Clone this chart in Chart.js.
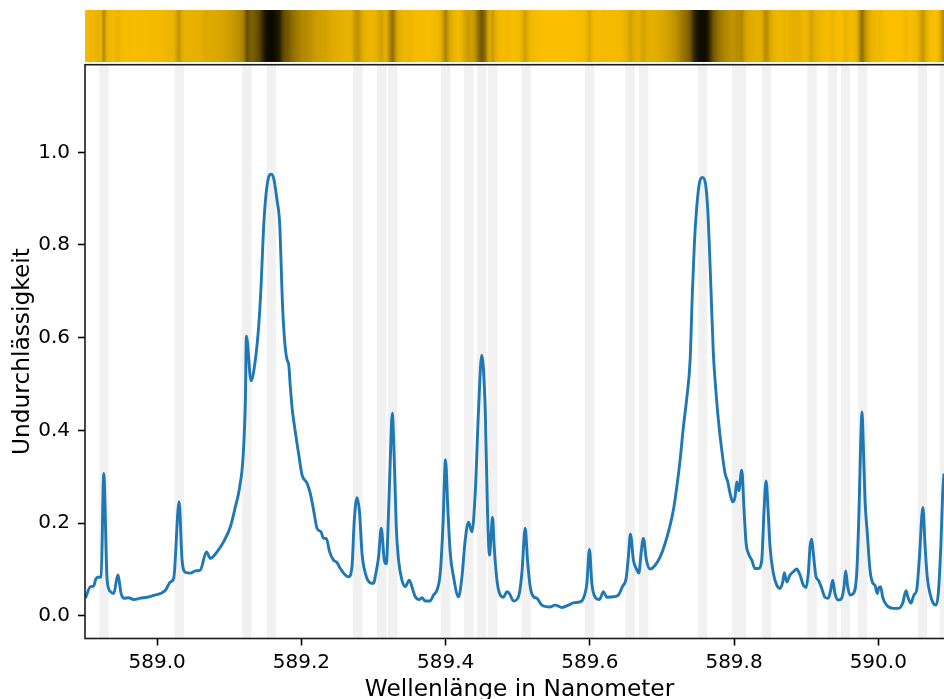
<!DOCTYPE html>
<html>
<head>
<meta charset="utf-8">
<title>Natrium-D-Linien</title>
<script src="https://cdn.jsdelivr.net/npm/chart.js@4.4.1/dist/chart.umd.min.js"></script>
<style>
  html, body { margin: 0; padding: 0; background: #fff; overflow: hidden; }
  #rahmen { width: 960px; height: 699px; }
</style>
</head>
<body>
<div id="rahmen"><canvas id="spektrum" width="960" height="699"></canvas></div>
<script>
// Wellenlänge in nm
const wellenlaenge = [
  588.9006, 588.9076, 588.9121, 588.9145, 588.9177, 588.9224, 588.9260, 588.9307, 588.9353, 588.9399,
  588.9454, 588.9501, 588.9537, 588.9606, 588.9676, 588.9769, 588.9861, 588.9953, 589.0046, 589.0115,
  589.0184, 589.0230, 589.0305, 589.0346, 589.0392, 589.0461, 589.0531, 589.0600, 589.0683, 589.0739,
  589.0831, 589.0923, 589.1016, 589.1085, 589.1145, 589.1192, 589.1224, 589.1238, 589.1303, 589.1362,
  589.1408, 589.1441, 589.1477, 589.1511, 589.1547, 589.1580, 589.1616, 589.1663, 589.1699, 589.1718,
  589.1736, 589.1764, 589.1802, 589.1824, 589.1847, 589.1875, 589.1893, 589.1962, 589.2009, 589.2079,
  589.2124, 589.2170, 589.2217, 589.2273, 589.2309, 589.2346, 589.2392, 589.2447, 589.2494, 589.2540,
  589.2609, 589.2655, 589.2702, 589.2734, 589.2772, 589.2808, 589.2841, 589.2887, 589.2956, 589.3002,
  589.3025, 589.3071, 589.3108, 589.3150, 589.3178, 589.3210, 589.3233, 589.3261, 589.3289, 589.3316,
  589.3348, 589.3395, 589.3441, 589.3496, 589.3548, 589.3580, 589.3639, 589.3672, 589.3718, 589.3787,
  589.3833, 589.3880, 589.3926, 589.3963, 589.3999, 589.4032, 589.4065, 589.4110, 589.4180, 589.4227,
  589.4272, 589.4318, 589.4365, 589.4411, 589.4457, 589.4501, 589.4550, 589.4581, 589.4609, 589.4633,
  589.4651, 589.4674, 589.4712, 589.4757, 589.4803, 589.4850, 589.4886, 589.4942, 589.5011, 589.5058,
  589.5104, 589.5136, 589.5173, 589.5219, 589.5266, 589.5335, 589.5450, 589.5520, 589.5613, 589.5704,
  589.5773, 589.5866, 589.5912, 589.5959, 589.5995, 589.6028, 589.6074, 589.6134, 589.6189, 589.6236,
  589.6328, 589.6397, 589.6452, 589.6504, 589.6535, 589.6563, 589.6605, 589.6652, 589.6680, 589.6711,
  589.6743, 589.6785, 589.6836, 589.6906, 589.6975, 589.7044, 589.7113, 589.7159, 589.7206, 589.7252,
  589.7298, 589.7345, 589.7391, 589.7422, 589.7450, 589.7483, 589.7519, 589.7561, 589.7603, 589.7636,
  589.7658, 589.7682, 589.7713, 589.7751, 589.7783, 589.7830, 589.7876, 589.7913, 589.7945, 589.7982,
  589.8014, 589.8038, 589.8065, 589.8107, 589.8139, 589.8167, 589.8198, 589.8246, 589.8291, 589.8337,
  589.8384, 589.8416, 589.8444, 589.8472, 589.8499, 589.8545, 589.8592, 589.8638, 589.8675, 589.8697,
  589.8731, 589.8776, 589.8822, 589.8869, 589.8915, 589.8961, 589.8998, 589.9030, 589.9054, 589.9077,
  589.9099, 589.9137, 589.9169, 589.9216, 589.9261, 589.9307, 589.9340, 589.9368, 589.9400, 589.9446,
  589.9493, 589.9525, 589.9548, 589.9576, 589.9608, 589.9654, 589.9701, 589.9733, 589.9756, 589.9774,
  589.9792, 589.9816, 589.9848, 589.9885, 589.9922, 589.9954, 589.9986, 590.0009, 590.0033, 590.0061,
  590.0116, 590.0208, 590.0277, 590.0338, 590.0384, 590.0416, 590.0453, 590.0495, 590.0532, 590.0568,
  590.0619, 590.0647, 590.0679, 590.0717, 590.0762, 590.0800, 590.0832, 590.0869, 590.0893, 590.0911
];

const undurchlaessigkeit = [
  0.038, 0.063, 0.064, 0.077, 0.083, 0.084, 0.307, 0.077, 0.052, 0.048,
  0.088, 0.048, 0.038, 0.039, 0.035, 0.038, 0.040, 0.044, 0.048, 0.055,
  0.073, 0.081, 0.246, 0.120, 0.094, 0.092, 0.097, 0.099, 0.138, 0.124,
  0.138, 0.160, 0.192, 0.235, 0.278, 0.343, 0.465, 0.603, 0.507, 0.552,
  0.624, 0.710, 0.839, 0.911, 0.947, 0.953, 0.944, 0.897, 0.847, 0.767,
  0.681, 0.602, 0.552, 0.543, 0.494, 0.444, 0.422, 0.350, 0.304, 0.286,
  0.264, 0.228, 0.189, 0.181, 0.167, 0.167, 0.138, 0.120, 0.115, 0.102,
  0.088, 0.084, 0.106, 0.206, 0.255, 0.221, 0.135, 0.092, 0.071, 0.070,
  0.085, 0.127, 0.189, 0.120, 0.112, 0.228, 0.336, 0.437, 0.336, 0.192,
  0.120, 0.077, 0.063, 0.077, 0.055, 0.041, 0.035, 0.039, 0.032, 0.032,
  0.045, 0.055, 0.092, 0.192, 0.337, 0.228, 0.135, 0.084, 0.041, 0.084,
  0.163, 0.202, 0.181, 0.264, 0.444, 0.562, 0.444, 0.228, 0.131, 0.178,
  0.212, 0.149, 0.077, 0.045, 0.040, 0.052, 0.048, 0.032, 0.041, 0.092,
  0.189, 0.120, 0.063, 0.041, 0.038, 0.023, 0.019, 0.023, 0.018, 0.023,
  0.028, 0.030, 0.038, 0.070, 0.143, 0.070, 0.040, 0.035, 0.052, 0.040,
  0.041, 0.045, 0.063, 0.081, 0.127, 0.176, 0.120, 0.099, 0.092, 0.135,
  0.167, 0.120, 0.101, 0.109, 0.127, 0.156, 0.195, 0.228, 0.278, 0.336,
  0.408, 0.470, 0.552, 0.696, 0.803, 0.882, 0.933, 0.946, 0.933, 0.875,
  0.796, 0.696, 0.566, 0.480, 0.422, 0.357, 0.307, 0.289, 0.264, 0.246,
  0.257, 0.289, 0.270, 0.314, 0.228, 0.156, 0.135, 0.120, 0.102, 0.102,
  0.120, 0.228, 0.291, 0.228, 0.149, 0.092, 0.066, 0.059, 0.073, 0.093,
  0.073, 0.088, 0.095, 0.101, 0.088, 0.066, 0.061, 0.092, 0.149, 0.165,
  0.135, 0.084, 0.077, 0.059, 0.040, 0.038, 0.055, 0.077, 0.048, 0.034,
  0.038, 0.063, 0.097, 0.063, 0.045, 0.048, 0.092, 0.228, 0.372, 0.440,
  0.372, 0.250, 0.178, 0.099, 0.071, 0.066, 0.048, 0.061, 0.063, 0.040,
  0.023, 0.016, 0.016, 0.027, 0.054, 0.038, 0.027, 0.045, 0.055, 0.120,
  0.234, 0.156, 0.084, 0.048, 0.027, 0.023, 0.048, 0.156, 0.264, 0.307
];

// Lage der bekannten Linien (graue Streifen)
const linienZentren = [
  588.9263, 589.0309, 589.1244, 589.1584, 589.2783, 589.3115, 589.3268, 589.4002, 589.4321, 589.4501,
  589.4654, 589.5118, 589.5998, 589.6559, 589.6746, 589.7564, 589.8035, 589.8104, 589.8451, 589.9081,
  589.9365, 589.9545, 589.9781, 590.0612, 590.0917
];

const xTicks = [589.0, 589.2, 589.4, 589.6, 589.8, 590.0];
const yTicks = [0.0, 0.2, 0.4, 0.6, 0.8, 1.0];

const SCHRIFT = 'DejaVu Sans';
const STREIFEN_HALB = 0.0065;

const linienStreifen = {
  id: 'linienStreifen',
  beforeDatasetsDraw(chart) {
    const { ctx, chartArea: a, scales: { x } } = chart;
    ctx.save();
    ctx.beginPath();
    ctx.rect(a.left, a.top, a.right - a.left, a.bottom - a.top);
    ctx.clip();
    ctx.fillStyle = '#f1f1f1';
    linienZentren.forEach(c => {
      const x0 = x.getPixelForValue(c - STREIFEN_HALB);
      const x1 = x.getPixelForValue(c + STREIFEN_HALB);
      ctx.fillRect(x0, a.top, x1 - x0, a.bottom - a.top);
    });
    ctx.restore();
  }
};

// Rahmen und das Farbband über dem Diagramm
const rahmenUndBand = {
  id: 'rahmenUndBand',
  afterDraw(chart) {
    const { ctx, chartArea: a, scales: { x } } = chart;
    const breite = a.right - a.left;

    ctx.save();
    ctx.strokeStyle = '#1a1a1a';
    ctx.lineWidth = 1.6;
    ctx.strokeRect(a.left, a.top, breite, a.bottom - a.top);

    const g = ctx.createLinearGradient(a.left, 0, a.right, 0);
    wellenlaenge.forEach((w, i) => {
      const t = (x.getPixelForValue(w) - a.left) / breite;
      if (t < 0 || t > 1) return;
      const k = 1 - undurchlaessigkeit[i];
      g.addColorStop(t, `rgb(${Math.round(255 * k)},${Math.round(195 * k)},0)`);
    });
    ctx.fillStyle = g;
    ctx.fillRect(a.left, 10, breite, 52);
    ctx.restore();
  }
};

const ctx = document.getElementById('spektrum').getContext('2d');

new Chart(ctx, {
  type: 'line',
  data: {
    datasets: [{
      data: wellenlaenge.map((w, i) => ({ x: w, y: undurchlaessigkeit[i] })),
      borderColor: '#1f77b4',
      borderWidth: 2.9,
      pointRadius: 0,
      cubicInterpolationMode: 'monotone',
      fill: false
    }]
  },
  options: {
    responsive: false,
    animation: false,
    layout: { padding: { left: 0, right: 6, top: 64.7, bottom: 0 } },
    plugins: {
      legend: { display: false },
      tooltip: { enabled: false }
    },
    scales: {
      x: {
        type: 'linear',
        min: 588.9,
        max: 590.105,
        afterBuildTicks: s => { s.ticks = xTicks.map(v => ({ value: v })); },
        afterFit: s => { s.height = 699 - 638.5; },
        border: { display: false },
        grid: { drawOnChartArea: false, tickLength: 7, tickWidth: 1.6, tickColor: '#000' },
        ticks: {
          autoSkip: false,
          maxRotation: 0,
          padding: 5,
          color: '#000',
          font: { family: SCHRIFT, size: 20 },
          callback: v => v.toFixed(1)
        },
        title: {
          display: true,
          text: 'Wellenlänge in Nanometer',
          color: '#000',
          font: { family: SCHRIFT, size: 23.3, lineHeight: 1.2 },
          padding: { top: 0, bottom: -5 }
        }
      },
      y: {
        min: -0.049,
        max: 1.189,
        afterBuildTicks: s => { s.ticks = yTicks.map(v => ({ value: v })); },
        afterFit: s => { s.width = 85; },
        border: { display: false },
        grid: { drawOnChartArea: false, tickLength: 7, tickWidth: 1.6, tickColor: '#000' },
        ticks: {
          padding: 8,
          color: '#000',
          font: { family: SCHRIFT, size: 20 },
          callback: v => v.toFixed(1)
        },
        title: {
          display: true,
          text: 'Undurchlässigkeit',
          color: '#000',
          font: { family: SCHRIFT, size: 23.3, lineHeight: 1.2 },
          padding: { top: 9, bottom: 0 }
        }
      }
    }
  },
  plugins: [linienStreifen, rahmenUndBand]
});
</script>
</body>
</html>
